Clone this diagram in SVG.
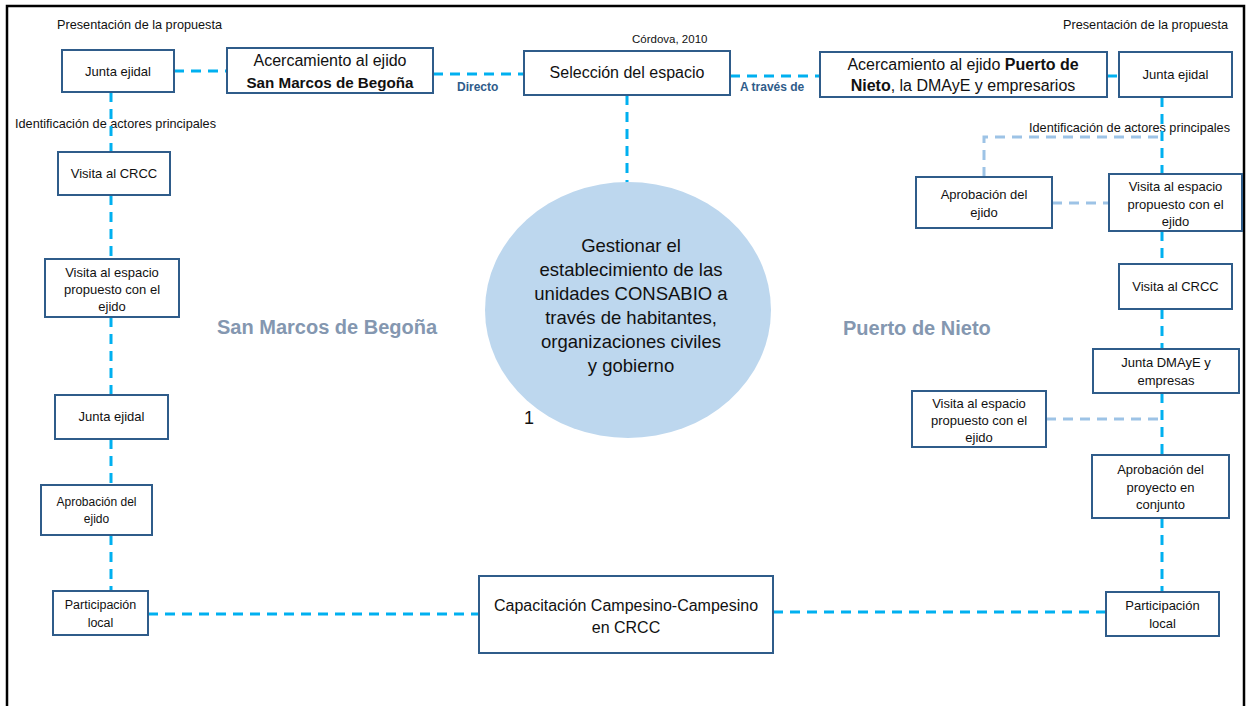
<svg xmlns="http://www.w3.org/2000/svg" width="1248" height="706" viewBox="0 0 1248 706">
<style>
text{font-family:"Liberation Sans",Arial,sans-serif;fill:#111}
.box{fill:#fff;stroke:#2F5C8A;stroke-width:2}
.t13{font-size:13px;text-anchor:middle}
.t16{font-size:16px;text-anchor:middle}
.lbl{font-size:12.7px}
.edge{font-size:12px;font-weight:bold;fill:#2F5C8A}
.region{font-size:20px;font-weight:bold;fill:#8497B0}
.c{fill:none;stroke:#00B0F0;stroke-width:3;stroke-dasharray:10 7}
.cl{fill:none;stroke:#9DC3E6;stroke-width:3;stroke-dasharray:10 7}
</style>
<rect width="1248" height="706" fill="#fff"/>
<polyline points="7,706 7,6 1244,6 1244,706" fill="none" stroke="#000" stroke-width="2.5"/>

<g id="labels">
<text class="lbl" x="57" y="29">Presentación de la propuesta</text>
<text class="lbl" x="15" y="128">Identificación de actores principales</text>
<text class="lbl" x="1063" y="29">Presentación de la propuesta</text>
<text class="lbl" x="1029" y="132">Identificación de actores principales</text>
<text x="632" y="43" style="font-size:11.5px">Córdova, 2010</text>
<text class="edge" x="457" y="91">Directo</text>
<text class="edge" x="740" y="91">A través de</text>
<text class="region" x="217" y="334">San Marcos de Begoña</text>
<text class="region" x="843" y="335">Puerto de Nieto</text>
</g>

<g id="connectors">
<line class="c" x1="174" y1="71" x2="227" y2="71"/>
<line class="c" x1="433" y1="74" x2="524" y2="74"/>
<line class="c" x1="730" y1="76" x2="820" y2="76"/>
<line class="c" x1="1107" y1="76" x2="1119" y2="76"/>
<line class="c" x1="627" y1="95" x2="627" y2="184"/>
<line class="c" x1="111" y1="92" x2="111" y2="152"/>
<line class="c" x1="111" y1="195" x2="111" y2="259"/>
<line class="c" x1="111" y1="317" x2="111" y2="395"/>
<line class="c" x1="111" y1="439" x2="111" y2="485"/>
<line class="c" x1="111" y1="535" x2="111" y2="591"/>
<line class="c" x1="1162" y1="97" x2="1162" y2="174"/>
<line class="c" x1="1162" y1="231" x2="1162" y2="264"/>
<line class="c" x1="1162" y1="309" x2="1162" y2="349"/>
<line class="c" x1="1162" y1="393" x2="1162" y2="455"/>
<line class="c" x1="1162" y1="518" x2="1162" y2="592"/>
<line class="c" x1="148" y1="614" x2="479" y2="614"/>
<line class="c" x1="773" y1="612" x2="1106" y2="612"/>
<line class="cl" x1="1052" y1="203" x2="1109" y2="203"/>
<polyline class="cl" points="984,177 984,137 1162,137"/>
<line class="cl" x1="1046" y1="419" x2="1162" y2="419"/>
</g>

<g id="n_center">
<ellipse cx="628" cy="310" rx="143" ry="128" fill="#BDD7EE"/>
<text x="631" y="252" style="font-size:18.5px;text-anchor:middle"><tspan x="631">Gestionar el</tspan><tspan x="631" dy="24">establecimiento de las</tspan><tspan x="631" dy="24">unidades CONSABIO a</tspan><tspan x="631" dy="24">través de habitantes,</tspan><tspan x="631" dy="24">organizaciones civiles</tspan><tspan x="631" dy="24">y gobierno</tspan></text>
<text x="524" y="424" style="font-size:18px">1</text>
</g>

<g id="n_sel"><rect class="box" x="524" y="51" width="206" height="44"/><text class="t16" x="627" y="78">Selección del espacio</text></g>

<g id="n_l_acerc"><rect class="box" x="227" y="48" width="206" height="45"/><text class="t16" x="330" y="66">Acercamiento al ejido</text><text class="t16" x="330" y="88" style="font-weight:bold;font-size:15.2px">San Marcos de Begoña</text></g>
<g id="n_l_junta1"><rect class="box" x="62" y="50" width="112" height="42"/><text class="t13" x="118" y="76">Junta ejidal</text></g>
<g id="n_l_crcc"><rect class="box" x="58" y="152" width="112" height="43"/><text class="t13" x="114" y="178">Visita al CRCC</text></g>
<g id="n_l_visita"><rect class="box" x="45" y="259" width="134" height="58"/><text class="t13" x="112" y="277"><tspan x="112">Visita al espacio</tspan><tspan x="112" dy="17">propuesto con el</tspan><tspan x="112" dy="17">ejido</tspan></text></g>
<g id="n_l_junta2"><rect class="box" x="55" y="395" width="113" height="44"/><text class="t13" x="111.5" y="421">Junta ejidal</text></g>
<g id="n_l_aprob"><rect class="box" x="41" y="485" width="111" height="50"/><text class="t13" x="96.5" y="506" style="font-size:12px"><tspan x="96.5">Aprobación del</tspan><tspan x="96.5" dy="17">ejido</tspan></text></g>
<g id="n_l_partic"><rect class="box" x="53" y="591" width="95" height="44"/><text class="t13" x="100.5" y="609" style="font-size:12.5px"><tspan x="100.5">Participación</tspan><tspan x="100.5" dy="18">local</tspan></text></g>

<g id="n_cap"><rect class="box" x="479" y="576" width="294" height="77"/><text class="t16" x="626" y="611"><tspan x="626">Capacitación Campesino-Campesino</tspan><tspan x="626" dy="22">en CRCC</tspan></text></g>

<g id="n_r_acerc"><rect class="box" x="820" y="52" width="287" height="45"/><text class="t16" x="963" y="70"><tspan x="963">Acercamiento al ejido <tspan font-weight="bold">Puerto de</tspan></tspan><tspan x="963" dy="21"><tspan font-weight="bold">Nieto</tspan>, la DMAyE y empresarios</tspan></text></g>
<g id="n_r_junta1"><rect class="box" x="1119" y="52" width="113" height="45"/><text class="t13" x="1175.5" y="79">Junta ejidal</text></g>
<g id="n_r_visita1"><rect class="box" x="1109" y="174" width="133" height="57"/><text class="t13" x="1175.5" y="191"><tspan x="1175.5">Visita al espacio</tspan><tspan x="1175.5" dy="17.5">propuesto con el</tspan><tspan x="1175.5" dy="17.5">ejido</tspan></text></g>
<g id="n_r_aprob1"><rect class="box" x="916" y="177" width="136" height="51"/><text class="t13" x="984" y="199"><tspan x="984">Aprobación del</tspan><tspan x="984" dy="17.5">ejido</tspan></text></g>
<g id="n_r_crcc"><rect class="box" x="1119" y="264" width="113" height="45"/><text class="t13" x="1175.5" y="291">Visita al CRCC</text></g>
<g id="n_r_dmaye"><rect class="box" x="1093" y="349" width="146" height="44"/><text class="t13" x="1166" y="367"><tspan x="1166">Junta DMAyE y</tspan><tspan x="1166" dy="18">empresas</tspan></text></g>
<g id="n_r_visita2"><rect class="box" x="912" y="391" width="134" height="56"/><text class="t13" x="979" y="408"><tspan x="979">Visita al espacio</tspan><tspan x="979" dy="17">propuesto con el</tspan><tspan x="979" dy="17">ejido</tspan></text></g>
<g id="n_r_aprob2"><rect class="box" x="1092" y="455" width="137" height="63"/><text class="t13" x="1160.5" y="474"><tspan x="1160.5">Aprobación del</tspan><tspan x="1160.5" dy="17.5">proyecto en</tspan><tspan x="1160.5" dy="17.5">conjunto</tspan></text></g>
<g id="n_r_partic"><rect class="box" x="1106" y="592" width="113" height="44"/><text class="t13" x="1162.5" y="610"><tspan x="1162.5">Participación</tspan><tspan x="1162.5" dy="18">local</tspan></text></g>
</svg>
